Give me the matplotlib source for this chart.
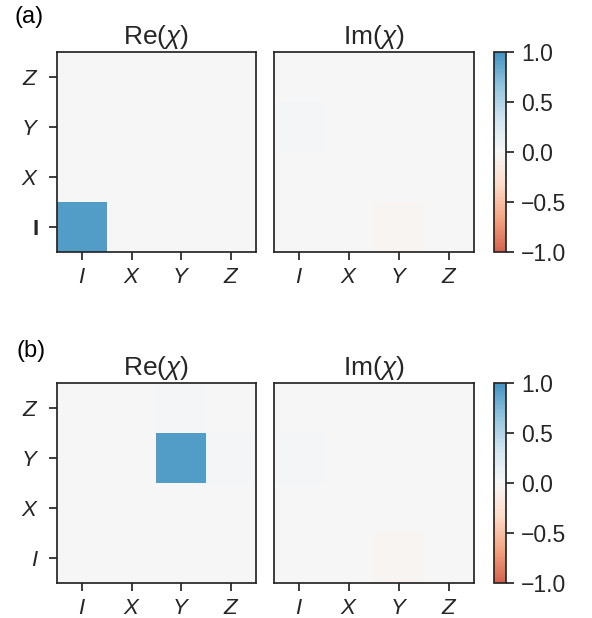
import numpy as np
import matplotlib
matplotlib.use("Agg")
import matplotlib.pyplot as plt
from matplotlib.colors import LinearSegmentedColormap

plt.rcParams["font.family"] = ["Liberation Sans", "DejaVu Sans"]
plt.rcParams["mathtext.fontset"] = "custom"
plt.rcParams["mathtext.rm"] = "Liberation Sans"
plt.rcParams["mathtext.it"] = "Liberation Sans:italic"
plt.rcParams["mathtext.bf"] = "Liberation Sans:bold"

ylabels_a = ["I", "$X$", "$Y$", "$Z$"]
ylabels_b = ["$I$", "$X$", "$Y$", "$Z$"]
xlabels = ["$I$", "$X$", "$Y$", "$Z$"]
cbar_ticks = [-1.0, -0.5, 0.0, 0.5, 1.0]
cbar_ticklabels = ["\u22121.0", "\u22120.5", "0.0", "0.5", "1.0"]

# rows: y = I, X, Y, Z (bottom to top); columns: x = I, X, Y, Z
re_a = [[0.93, 0.01, 0.01, 0.005],
        [0.01, 0.01, 0.01, 0.005],
        [0.01, 0.01, 0.01, 0.005],
        [0.005, 0.005, 0.0, 0.005]]
im_a = [[0.01, 0.01, -0.025, 0.01],
        [0.0, 0.01, 0.01, 0.005],
        [0.035, 0.005, 0.005, 0.0],
        [0.0, 0.01, 0.01, 0.01]]
re_b = [[0.005, 0.005, 0.005, 0.01],
        [0.005, 0.005, 0.0, 0.01],
        [0.005, 0.005, 0.93, 0.03],
        [0.005, 0.01, 0.03, 0.01]]
im_b = [[0.01, 0.01, -0.025, 0.01],
        [0.0, 0.01, 0.01, 0.01],
        [0.035, 0.005, 0.005, 0.01],
        [0.0, 0.005, 0.005, 0.01]]

base = plt.get_cmap("RdBu")
cmap = LinearSegmentedColormap.from_list("rdbu_mid", base(np.linspace(0.2, 0.8, 256)))

W, H = 592, 618
fig = plt.figure(figsize=(W / 100, H / 100), dpi=100)
dark = "#262626"
FS = 16

def px(l, t, r, b):
    return [l / W, 1 - b / H, (r - l) / W, (b - t) / H]

rows = [
    (52, 252, re_a, im_a, ylabels_a, "(a)", 17, 15),
    (383, 583, re_b, im_b, ylabels_b, "(b)", 351, 16),
]
for top, bot, re, im, ylab, tag, tagy, tagx in rows:
    for k, (data, title, left, right) in enumerate([(re, r"Re($\chi$)", 57, 256),
                                                    (im, r"Im($\chi$)", 274, 474)]):
        ax = fig.add_axes(px(left, top, right, bot))
        img = ax.imshow(np.array(data), cmap=cmap, vmin=-1, vmax=1, origin="lower",
                        aspect="auto", interpolation="nearest")
        ax.set_xticks(range(4))
        ax.set_xticklabels(xlabels, fontsize=FS)
        ax.set_yticks(range(4))
        if k == 0:
            ax.set_yticklabels(ylab, fontsize=FS)
            if tag == "(a)":
                ax.get_yticklabels()[0].set_fontweight("bold")
            ax.tick_params(axis="y", direction="out", length=6, width=1.25, pad=7, colors=dark)
        else:
            ax.set_yticklabels([])
            ax.tick_params(axis="y", length=0)
        ax.tick_params(axis="x", direction="out", length=6, width=1.25, pad=5, colors=dark)
        for s in ax.spines.values():
            s.set_color(dark)
            s.set_linewidth(1.25)
        ax.set_title(title, fontsize=19, pad=6, color=dark)
    cax = fig.add_axes(px(494, top, 506, bot))
    cb = fig.colorbar(img, cax=cax, ticks=cbar_ticks)
    cb.ax.set_yticklabels(cbar_ticklabels)
    cb.ax.tick_params(labelsize=FS + 0.5, length=6, width=1.25, pad=5, colors=dark)
    cb.outline.set_edgecolor(dark)
    cb.outline.set_linewidth(1.25)
    fig.text(tagx / W, 1 - tagy / H, tag, fontsize=FS + 1, va="center", ha="left", color="black")

fig.savefig("out.png", dpi=100)
